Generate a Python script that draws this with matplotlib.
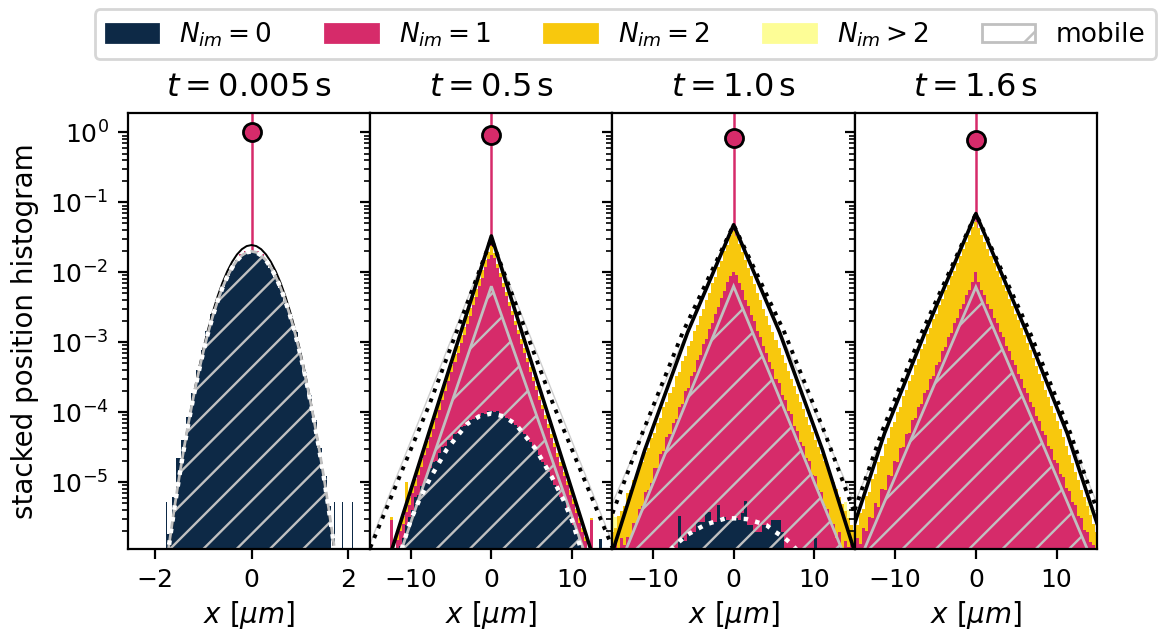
import numpy as np
import matplotlib
matplotlib.use("Agg")
import matplotlib.pyplot as plt
from matplotlib.patches import Patch, Polygon
from matplotlib.collections import LineCollection
from matplotlib.transforms import IdentityTransform

# ---------------- colours ----------------
C_NAVY = "#0d2946"
C_PINK = "#d62b6a"
C_YEL = "#f8c80d"
C_LIGHT = "#fdfd96"
C_GRAY = "#c0c0c0"

# ---------------- data ----------------
times = ["0.005", "0.5", "1.0", "1.6"]
immobile_peak = [1.0, 0.906, 0.84, 0.78]
legend_labels = [r"$N_{im}=0$", r"$N_{im}=1$", r"$N_{im}=2$", r"$N_{im}>2$", "mobile"]

# Panel 1 (t = 0.005 s): bin centres -1.7 ... 1.7 (step 0.1); log10 of stacked heights (-9 = empty)
p1_bin_x = [round(0.1 * k, 1) for k in range(-17, 18)]
p1_log_top_nim0 = [-5.74, -5.22, -4.66, -4.40, -4.07, -3.72, -3.40, -3.11, -2.84, -2.60,
                   -2.40, -2.21, -2.06, -1.93, -1.83, -1.76, -1.725, -1.715, -1.725, -1.76,
                   -1.83, -1.935, -2.065, -2.22, -2.41, -2.62, -2.86, -3.13, -3.43, -3.76,
                   -4.11, -4.51, -4.92, -5.35, -9]
p1_log_top_nim1 = [-5.74, -5.22, -4.66, -4.40, -4.07, -3.72, -3.40, -3.11, -2.84, -2.60,
                   -2.40, -2.21, -2.06, -1.93, -1.83, -1.74, -1.70, -1.69, -1.70, -1.745,
                   -1.83, -1.935, -2.065, -2.22, -2.41, -2.62, -2.86, -3.13, -3.43, -3.76,
                   -4.11, -4.51, -4.92, -5.35, -9]
p1_spike_x = [-1.76, 1.71, 1.88, 2.09]
p1_spike_log = [-5.28, -5.28, -5.28, -5.28]
p1_curve_x = [round(0.1 * k, 1) for k in range(-18, 19)]
p1_log_theory_total = [-6.47, -5.945, -5.45, -4.985, -4.55, -4.145, -3.77, -3.425, -3.11, -2.825,
                       -2.57, -2.345, -2.15, -1.985, -1.85, -1.745, -1.67, -1.625, -1.61,
                       -1.625, -1.67, -1.745, -1.85, -1.985, -2.15, -2.345, -2.57, -2.825, -3.11,
                       -3.425, -3.77, -4.145, -4.55, -4.985, -5.45, -5.945, -6.47]
p1_log_theory_nim0 = [-6.398, -5.891, -5.412, -4.963, -4.542, -4.151, -3.788, -3.455, -3.15, -2.875,
                      -2.628, -2.411, -2.222, -2.063, -1.932, -1.83, -1.758, -1.715, -1.70,
                      -1.715, -1.758, -1.83, -1.932, -2.063, -2.222, -2.411, -2.628, -2.875, -3.15,
                      -3.455, -3.788, -4.151, -4.542, -4.963, -5.412, -5.891, -6.398]
p1_log_mobile = [-6.398, -5.891, -5.412, -4.963, -4.542, -4.151, -3.788, -3.455, -3.15, -2.875,
                 -2.628, -2.411, -2.222, -2.063, -1.932, -1.83, -1.758, -1.715, -1.70,
                 -1.715, -1.758, -1.83, -1.932, -2.063, -2.222, -2.411, -2.628, -2.875, -3.15,
                 -3.455, -3.788, -4.151, -4.542, -4.963, -5.412, -5.891, -6.398]

# Panels 2-4: bin centres -15 ... 15 (step 0.375, 81 bins); log10 of stacked heights (-9 = empty)
wide_bin_x = [0.375 * k for k in range(-40, 41)]

p2_log_top_nim0 = [
    -9, -9, -9, -9, -9, -9, -9, -9, -9, -9,
    -5.92, -5.80, -5.62, -5.50, -5.40, -5.22, -5.18, -5.05, -5.00, -4.88,
    -4.80, -4.72, -4.70, -4.58, -4.50, -4.48, -4.40, -4.40, -4.32, -4.30,
    -4.22, -4.20, -4.15, -4.12, -4.10, -4.06, -4.05, -4.01, -4.02, -3.99,
    -3.98,
    -4.00, -3.99, -4.04, -4.05, -4.09, -4.10, -4.16, -4.18, -4.21, -4.28,
    -4.32, -4.40, -4.43, -4.50, -4.54, -4.62, -4.72, -4.76, -4.86, -4.92,
    -5.04, -5.08, -5.22, -5.25, -5.42, -5.45, -5.62, -5.70, -5.85, -5.95,
    -9, -9, -9, -9, -9, -5.82, -9, -9, -9, -9]
p2_log_top_nim1 = [
    -9, -9, -9, -9, -9, -9, -9, -5.55, -9, -5.83,
    -5.70, -5.60, -5.43, -5.33, -5.16, -5.06, -4.90, -4.78, -4.62, -4.52,
    -4.36, -4.24, -4.09, -3.97, -3.82, -3.70, -3.55, -3.43, -3.28, -3.16,
    -3.01, -2.89, -2.74, -2.62, -2.47, -2.35, -2.20, -2.08, -1.93, -1.81,
    -1.75,
    -1.80, -1.94, -2.07, -2.21, -2.34, -2.48, -2.61, -2.75, -2.88, -3.02,
    -3.15, -3.29, -3.42, -3.56, -3.69, -3.83, -3.96, -4.10, -4.23, -4.37,
    -4.50, -4.64, -4.77, -4.91, -5.04, -5.18, -5.31, -5.45, -5.58, -5.72,
    -5.85, -9, -5.55, -9, -9, -5.82, -9, -9, -9, -9]
p2_log_top_nim2 = [
    -9, -9, -9, -9, -9, -9, -9, -5.50, -9, -5.72,
    -5.59, -5.49, -5.00, -5.22, -5.05, -4.95, -4.79, -4.67, -4.51, -4.41,
    -4.25, -4.13, -3.98, -3.86, -3.71, -3.59, -3.44, -3.32, -3.17, -3.05,
    -2.90, -2.78, -2.63, -2.51, -2.36, -2.24, -2.09, -1.97, -1.83, -1.71,
    -1.62,
    -1.73, -1.88, -2.01, -2.15, -2.28, -2.42, -2.55, -2.69, -2.82, -2.96,
    -3.09, -3.23, -3.36, -3.50, -3.63, -3.77, -3.90, -4.04, -4.17, -4.31,
    -4.44, -4.58, -4.71, -4.85, -4.98, -5.12, -5.25, -5.39, -5.52, -5.66,
    -5.79, -9, -5.52, -9, -9, -5.82, -9, -9, -9, -9]
p2_light_x, p2_light_log = [], []

p3_log_top_nim0 = [
    -9, -9, -9, -9, -9, -9, -9, -9, -9, -9,
    -9, -9, -9, -9, -9, -9, -9, -9, -9, -5.96,
    -9, -9, -5.49, -5.80, -5.85, -5.75, -5.71, -5.71, -5.57, -5.57,
    -5.57, -5.43, -5.43, -5.57, -5.57, -5.33, -5.50, -5.50, -5.54, -5.54,
    -5.52,
    -5.52, -5.55, -5.45, -5.27, -5.62, -5.62, -5.72, -5.72, -5.72, -5.62,
    -5.62, -5.62, -5.55, -5.55, -5.55, -5.72, -9, -9, -9, -9,
    -9, -9, -9, -9, -9, -9, -5.80, -9, -9, -9,
    -9, -9, -9, -9, -9, -9, -9, -9, -9, -9]
p3_log_top_nim1 = [
    -5.93, -5.88, -5.96, -5.80, -5.90, -5.78, -5.80, -5.58, -5.60, -5.38,
    -5.35, -5.15, -5.12, -5.02, -4.80, -4.80, -4.60, -4.55, -4.36, -4.32,
    -4.15, -4.10, -3.92, -3.88, -3.70, -3.65, -3.48, -3.42, -3.25, -3.18,
    -3.03, -2.96, -2.81, -2.72, -2.59, -2.50, -2.37, -2.27, -2.14, -2.05,
    -2.00,
    -2.04, -2.16, -2.25, -2.39, -2.48, -2.61, -2.70, -2.84, -2.93, -3.06,
    -3.15, -3.29, -3.38, -3.52, -3.59, -3.75, -3.82, -3.98, -4.03, -4.20,
    -4.27, -4.43, -4.48, -4.66, -4.70, -4.90, -4.92, -5.12, -5.15, -5.35,
    -5.38, -5.57, -5.60, -5.80, -5.72, -5.95, -5.85, -5.93, -5.88, -5.96]
p3_log_top_nim2 = [
    -5.72, -5.66, -5.48, -5.42, -5.34, -5.16, -5.12, -4.97, -4.92, -4.78,
    -4.72, -4.57, -4.52, -4.37, -4.30, -4.16, -4.08, -3.93, -3.86, -3.72,
    -3.64, -3.49, -3.42, -3.27, -3.20, -3.05, -2.98, -2.84, -2.76, -2.62,
    -2.53, -2.39, -2.30, -2.16, -2.07, -1.93, -1.84, -1.70, -1.61, -1.47,
    -1.41,
    -1.48, -1.60, -1.71, -1.83, -1.94, -2.06, -2.17, -2.29, -2.40, -2.52,
    -2.63, -2.75, -2.86, -2.97, -3.08, -3.19, -3.30, -3.41, -3.52, -3.63,
    -3.74, -3.85, -3.96, -4.07, -4.18, -4.29, -4.40, -4.50, -4.60, -4.70,
    -4.80, -4.90, -5.00, -5.10, -5.21, -5.31, -5.41, -5.51, -5.61, -5.71]
p3_light_x, p3_light_log = [-15.0, -14.625, 13.875, 14.25], [-5.45, -5.50, -5.28, -5.40]

p4_log_top_nim0 = [-9] * 81
p4_log_top_nim1 = [
    -5.90, -5.80, -5.88, -5.66, -5.70, -5.50, -5.52, -5.30, -5.36, -5.10,
    -5.12, -4.90, -4.92, -4.70, -4.72, -4.52, -4.50, -4.32, -4.30, -4.12,
    -4.08, -3.92, -3.88, -3.72, -3.68, -3.52, -3.48, -3.33, -3.28, -3.12,
    -3.07, -2.93, -2.87, -2.73, -2.66, -2.53, -2.45, -2.33, -2.25, -2.14,
    -2.00,
    -2.14, -2.25, -2.33, -2.46, -2.53, -2.66, -2.73, -2.86, -2.93, -3.06,
    -3.13, -3.26, -3.33, -3.46, -3.53, -3.66, -3.73, -3.86, -3.93, -4.06,
    -4.13, -4.27, -4.33, -4.48, -4.53, -4.68, -4.73, -4.88, -4.93, -5.08,
    -5.13, -5.28, -5.33, -5.48, -5.52, -5.68, -5.72, -5.86, -5.90, -5.96]
p4_log_top_nim2 = [
    -5.66, -5.62, -5.44, -5.38, -5.20, -5.14, -4.95, -4.88, -4.71, -4.63,
    -4.46, -4.37, -4.22, -4.14, -4.00, -3.92, -3.77, -3.69, -3.55, -3.47,
    -3.33, -3.24, -3.10, -3.02, -2.88, -2.79, -2.67, -2.59, -2.47, -2.38,
    -2.26, -2.18, -2.06, -1.98, -1.86, -1.77, -1.66, -1.57, -1.46, -1.35,
    -1.28,
    -1.36, -1.46, -1.57, -1.66, -1.77, -1.86, -1.98, -2.07, -2.18, -2.27,
    -2.38, -2.48, -2.59, -2.68, -2.79, -2.89, -3.01, -3.11, -3.23, -3.34,
    -3.46, -3.56, -3.68, -3.79, -3.91, -4.01, -4.13, -4.24, -4.36, -4.48,
    -4.61, -4.73, -4.86, -4.97, -5.11, -5.22, -5.35, -5.47, -5.60, -5.71]
p4_light_x, p4_light_log = [-15.0, 13.875, 14.25], [-5.50, -5.28, -5.38]

# theory lines (x, log10 y)
p2_total_x, p2_total_log = [-12.3, 0, 12.3], [-5.96, -1.48, -5.96]
p2_dot_x, p2_dot_log = [-15, -7.6, 0, 7.6, 15], [-5.94, -3.87, -1.52, -3.87, -5.94]
p2_thin_x, p2_thin_log = [-15.3, 0, 15.3], [-5.96, -1.52, -5.96]
p2_nim0_x = [-11.1, -10.0, -8.9, -7.5, -5.5, -3.0, -1.5, 0, 1.5, 3.0, 5.5, 7.5, 8.9, 10.0, 11.1]
p2_nim0_log = [-5.96, -5.55, -5.25, -4.93, -4.53, -4.17, -4.06, -4.02, -4.06, -4.17, -4.53, -4.93,
               -5.25, -5.55, -5.96]
p2_mob_x, p2_mob_log = [-11.1, 0, 11.4], [-5.96, -2.2, -5.96]

p3_total_x = [-15, -11.0, -5.7, 0, 5.7, 11.0, 15]
p3_total_log = [-6.0, -4.54, -2.86, -1.32, -2.86, -4.54, -6.0]
p3_dot_x, p3_dot_log = [-15, -11.3, -6.3, 0, 6.3, 11.3, 15], [-5.45, -4.3, -2.86, -1.32, -2.86, -4.3, -5.45]
p3_thin_x, p3_thin_log = [-15, 0, 15], [-5.3, -1.32, -5.3]
p3_nim0_x = [-7.8, -6.9, -5.8, -4.6, -3.5, -2.4, -1.0, 0.25, 1.6, 2.8, 4.1, 5.1, 6.2, 7.2, 7.8]
p3_nim0_log = [-5.97, -5.87, -5.76, -5.68, -5.61, -5.57, -5.52, -5.52, -5.53, -5.57, -5.62, -5.71,
               -5.79, -5.89, -5.97]
p3_mob_x, p3_mob_log = [-13.3, 0, 13.4], [-5.96, -2.2, -5.96]

p4_total_x = [-15, -11.3, -6.3, 0, 6.3, 11.3, 15]
p4_total_log = [-5.59, -4.3, -2.86, -1.16, -2.86, -4.3, -5.59]
p4_dot_x, p4_dot_log = [-15, -11.7, -6.7, 0, 6.7, 11.7, 15], [-5.4, -4.3, -2.86, -1.16, -2.86, -4.3, -5.4]
p4_thin_x, p4_thin_log = [-15, 0, 15], [-5.3, -1.16, -5.3]
p4_mob_x, p4_mob_log = [-13.8, 0, 13.8], [-5.96, -2.21, -5.96]


def lin(a):
    a = np.asarray(a, dtype=float)
    return np.where(a < -8, 0.0, 10.0 ** a)


# ---------------- figure ----------------
DPI = 200
plt.rcParams["font.size"] = 10
plt.rcParams["xtick.labelsize"] = 9
plt.rcParams["ytick.labelsize"] = 9
plt.rcParams["hatch.linewidth"] = 0.9
plt.rcParams["hatch.color"] = C_GRAY

fig, axes = plt.subplots(1, 4, sharey=True, figsize=(1159 / DPI, 632 / DPI), dpi=DPI)
fig.subplots_adjust(left=0.1104, right=0.9465, bottom=0.1313, top=0.8212, wspace=0)

layer_colors = [C_NAVY, C_PINK, C_YEL, C_LIGHT]

HATCH_SPACING = 33.3   # pixels between hatch lines (horizontal)
HATCH_PHASE = 87.0


def draw_stack(ax, centers, tops, bw):
    c = np.asarray(centers, dtype=float)
    edges = np.concatenate([c - bw / 2, [c[-1] + bw / 2]])
    prev = np.zeros(len(c))
    for top, col in zip(tops, layer_colors):
        t = np.maximum(lin(top), prev)
        ax.stairs(t, edges, baseline=prev, fill=True, color=col, lw=0, zorder=1)
        prev = t


def with_light(centers, base, lx, ll):
    out = list(base)
    c = np.asarray(centers)
    for x, v in zip(lx, ll):
        i = int(np.argmin(np.abs(c - x)))
        out[i] = max(out[i], v)
    return out


def draw_mobile(ax, x, logy):
    y = lin(logy)
    verts = [(x[0], 1e-9)] + list(zip(x, y)) + [(x[-1], 1e-9)]
    poly = Polygon(verts, closed=True, facecolor="none", edgecolor=C_GRAY, lw=1.0, zorder=2.1)
    ax.add_patch(poly)
    bb = ax.bbox
    x0, y0, x1, y1 = bb.x0 - 5, bb.y0 - 5, bb.x1 + 5, bb.y1 + 5
    n0 = int(np.floor((x0 - y1 - HATCH_PHASE) / HATCH_SPACING))
    n1 = int(np.ceil((x1 - y0 - HATCH_PHASE) / HATCH_SPACING))
    segs = []
    for n in range(n0, n1 + 1):
        cc = HATCH_PHASE + n * HATCH_SPACING
        segs.append([(x0, x0 - cc), (x1, x1 - cc)])
    lc = LineCollection(segs, colors=C_GRAY, linewidths=0.85, transform=IdentityTransform(),
                        zorder=2.05)
    lc.set_clip_path(poly)
    lc.set_clip_box(ax.bbox)
    ax.add_collection(lc, autolim=False)


def draw_common(ax, k):
    ax.axvline(0, color=C_PINK, lw=0.9, zorder=0.5)
    ax.plot([0], [immobile_peak[k]], "o", ms=6.5, mfc=C_PINK, mec="k", mew=1.0, zorder=6)
    ax.set_title(rf"$t={times[k]}\,\mathrm{{s}}$", fontsize=11.5)
    ax.set_xlabel(r"$x\ [\mu m]$", fontsize=10, labelpad=2.5)


# panel 1
ax = axes[0]
ax.set_yscale("log")
ax.set_ylim(1.1e-6, 1.9)
ax.set_xlim(-2.55, 2.45)
draw_stack(ax, p1_bin_x, [p1_log_top_nim0, p1_log_top_nim1], 0.1)
ax.bar(p1_spike_x, lin(p1_spike_log), width=0.025, color=C_NAVY, lw=0, zorder=1)
draw_mobile(ax, p1_curve_x, p1_log_mobile)
ax.plot(p1_curve_x, lin(p1_log_theory_total), color="k", lw=0.7, zorder=2)
ax.plot(p1_curve_x, lin(p1_log_theory_nim0), color="white", lw=1.6, ls=":", zorder=2.5)
draw_common(ax, 0)
ax.set_xticks([-2, 0, 2])
ax.set_ylabel("stacked position histogram", fontsize=10)

panels = [
    (p2_log_top_nim0, p2_log_top_nim1, p2_log_top_nim2, p2_light_x, p2_light_log,
     p2_total_x, p2_total_log, p2_dot_x, p2_dot_log, p2_thin_x, p2_thin_log,
     p2_mob_x, p2_mob_log, p2_nim0_x, p2_nim0_log),
    (p3_log_top_nim0, p3_log_top_nim1, p3_log_top_nim2, p3_light_x, p3_light_log,
     p3_total_x, p3_total_log, p3_dot_x, p3_dot_log, p3_thin_x, p3_thin_log,
     p3_mob_x, p3_mob_log, p3_nim0_x, p3_nim0_log),
    (p4_log_top_nim0, p4_log_top_nim1, p4_log_top_nim2, p4_light_x, p4_light_log,
     p4_total_x, p4_total_log, p4_dot_x, p4_dot_log, p4_thin_x, p4_thin_log,
     p4_mob_x, p4_mob_log, None, None),
]

for i, pdat in enumerate(panels):
    ax = axes[i + 1]
    ax.set_xlim(-15, 15)
    (t0, t1, t2, lx, ll, tx, tl, dx, dl, thx, thl, mx, ml, nx, nl) = pdat
    t3 = with_light(wide_bin_x, t2, lx, ll)
    draw_stack(ax, wide_bin_x, [t0, t1, t2, t3], 0.375)
    draw_mobile(ax, mx, ml)
    ax.plot(thx, lin(thl), color="#cfcfcf", lw=0.5, zorder=1.8)
    ax.plot(dx, lin(dl), color="k", lw=1.4, ls=(0, (1, 1.7)), zorder=2)
    ax.plot(tx, lin(tl), color="k", lw=1.3, zorder=2.2)
    if nx is not None:
        ax.plot(nx, lin(nl), color="white", lw=1.6, ls=":", zorder=2.5)
    draw_common(ax, i + 1)
    ax.set_xticks([-10, 0, 10])

for ax in axes:
    ax.set_xlim(ax.get_xlim())
axes[0].set_ylim(1.1e-6, 1.9)

handles = [Patch(facecolor=C_NAVY, edgecolor=C_NAVY),
           Patch(facecolor=C_PINK, edgecolor=C_PINK),
           Patch(facecolor=C_YEL, edgecolor=C_YEL),
           Patch(facecolor=C_LIGHT, edgecolor=C_LIGHT),
           Patch(facecolor="white", edgecolor=C_GRAY, hatch="/", lw=1.0)]
fig.legend(handles, legend_labels, loc="upper left", bbox_to_anchor=(0.082, 0.985),
           ncol=5, fontsize=9.5, borderaxespad=0, frameon=True)

fig.savefig("out.png", dpi=DPI)
